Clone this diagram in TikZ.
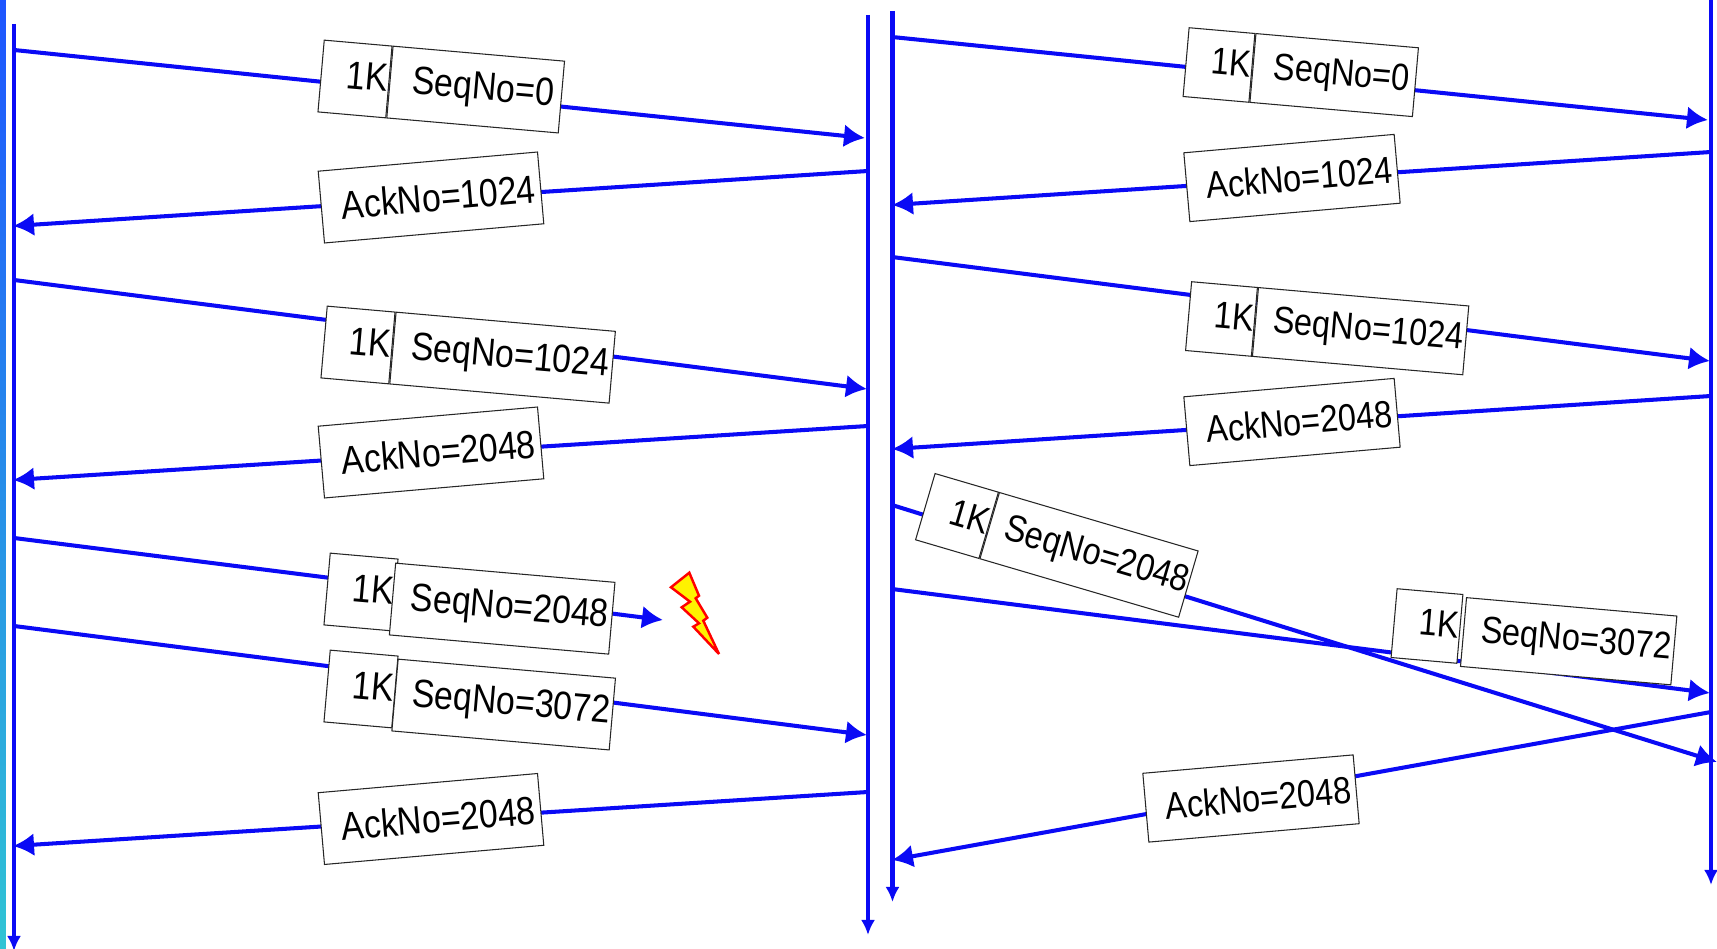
\documentclass[tikz,border=0pt]{standalone}
\usepackage{fontspec}
\setmainfont[FakeStretch=0.86]{Liberation Sans}
\usetikzlibrary{arrows.meta}

\definecolor{wireblue}{RGB}{10,10,245}
\definecolor{striptop}{RGB}{30,85,255}
\definecolor{stripbot}{RGB}{48,196,212}

\begin{document}
\begin{tikzpicture}[
    x=0.01cm, y=-0.01cm,
    life/.style={
        wireblue,
        line width=1.15pt,
        -{Latex[length=0.15cm,width=0.14cm]}
    },
    msg/.style={
        wireblue,
        line width=1.15pt,
        -{Latex[length=0.21cm,width=0.23cm]}
    },
    pkt/.style={
        draw=black!85,
        fill=white,
        line width=0.3pt,
        inner sep=0pt,
        minimum height=0.72cm,
        font=\fontsize{11.2}{13}\selectfont
    },
    lenbox/.style={
        pkt,
        minimum width=0.68cm,
        text width=0.65cm,
        text depth=0.07cm,
        align=right
    },
    textbox/.style={pkt, execute at begin node=\hspace{0.15cm}},
    seqbox/.style={textbox, anchor=west},
    ackbox/.style={textbox, minimum width=2.2cm},
    % right hand exchange is drawn a little smaller
    small/.style={
        minimum height=0.69cm,
        font=\fontsize{10.75}{13}\selectfont
    }
]

    \useasboundingbox (0,0) rectangle (1717,949);

    % Strip along the left edge
    \shade[top color=striptop, bottom color=stripbot] (0,0) rectangle (6,949);

    % Ends of the time lines
    \coordinate (host1top) at (14,24);    \coordinate (host1end) at (14,951);
    \coordinate (host2top) at (868,15);   \coordinate (host2end) at (868,935);
    \coordinate (host3top) at (892.5,11); \coordinate (host3end) at (892.5,902);
    \coordinate (host4top) at (1711,0);   \coordinate (host4end) at (1711,885);

    % Ends of the messages, left exchange
    \coordinate (seq0a) at (14,50);     \coordinate (seq0b) at (865,138);
    \coordinate (ack1a) at (868,171);   \coordinate (ack1b) at (13,226);
    \coordinate (seq1a) at (14,280);    \coordinate (seq1b) at (867,389);
    \coordinate (ack2a) at (868,426);   \coordinate (ack2b) at (13,480);
    \coordinate (seq2a) at (14,538);    \coordinate (seq2b) at (663,620);
    \coordinate (seq3a) at (14,626);    \coordinate (seq3b) at (867,735);
    \coordinate (ack3a) at (868,792);   \coordinate (ack3b) at (13,846);

    % Ends of the messages, right exchange
    \coordinate (rseq0a) at (892,37);   \coordinate (rseq0b) at (1708,120);
    \coordinate (rack1a) at (1711,152); \coordinate (rack1b) at (892,205);
    \coordinate (rseq1a) at (892,257);  \coordinate (rseq1b) at (1710,361);
    \coordinate (rack2a) at (1711,396); \coordinate (rack2b) at (892,449);
    \coordinate (rseq2a) at (892,505);  \coordinate (rseq2b) at (1717,762);
    \coordinate (rseq3a) at (892,589);  \coordinate (rseq3b) at (1710,693);
    \coordinate (rack3a) at (1711,712); \coordinate (rack3b) at (892,860);

    % Time lines
    \draw[life] (host1top) -- (host1end);
    \draw[life] (host2top) -- (host2end);
    \draw[life] (host3top) -- (host3end);
    \draw[life] (host4top) -- (host4end);

    % Messages
    \draw[msg] (seq0a) -- (seq0b);
    \draw[msg] (ack1a) -- (ack1b);
    \draw[msg] (seq1a) -- (seq1b);
    \draw[msg] (ack2a) -- (ack2b);
    \draw[msg] (seq2a) -- (seq2b);
    \draw[msg] (seq3a) -- (seq3b);
    \draw[msg] (ack3a) -- (ack3b);
    \draw[msg] (rseq0a) -- (rseq0b);
    \draw[msg] (rack1a) -- (rack1b);
    \draw[msg] (rseq1a) -- (rseq1b);
    \draw[msg] (rack2a) -- (rack2b);
    \draw[msg] (rseq2a) -- (rseq2b);
    \draw[msg] (rseq3a) -- (rseq3b);
    \draw[msg] (rack3a) -- (rack3b);

    % Packets on the left, each sits on top of its message
    \node[lenbox, rotate=-5] (len0) at (355,79) {1K};
    \node[seqbox, rotate=-5, minimum width=1.72cm] (seq0) at (len0.east) {SeqNo=0};
    \node[ackbox, rotate=5] (ack1) at (431,197.5) {AckNo=1024};

    \node[lenbox, rotate=-5] (len1) at (358,345) {1K};
    \node[seqbox, rotate=-5, minimum width=2.2cm] (seq1) at (len1.east) {SeqNo=1024};
    \node[ackbox, rotate=5] (ack2) at (431,452.5) {AckNo=2048};

    \node[lenbox, rotate=-5] (len2) at (361,592) {1K};
    \node[seqbox, rotate=-5, minimum width=2.2cm] (seq2) at (392,599) {SeqNo=2048};

    \node[lenbox, rotate=-5] (len3) at (361,689) {1K};
    \node[seqbox, rotate=-5, minimum width=2.18cm] (seq3) at (394.5,695) {SeqNo=3072};
    \node[ackbox, rotate=5] (ack3) at (431,819) {AckNo=2048};

    % Packets on the right
    \node[lenbox, small, rotate=-5, minimum width=0.66cm] (rlen0) at (1219,65) {1K};
    \node[seqbox, small, rotate=-5, minimum width=1.63cm] (rseq0) at (rlen0.east) {SeqNo=0};
    \node[ackbox, small, rotate=5, minimum width=2.11cm] (rack1) at (1292,178) {AckNo=1024};

    \node[lenbox, small, rotate=-5, minimum width=0.66cm] (rlen1) at (1221.5,319) {1K};
    \node[seqbox, small, rotate=-5, minimum width=2.11cm] (rseq1) at (rlen1.east) {SeqNo=1024};
    \node[ackbox, small, rotate=5, minimum width=2.11cm] (rack2) at (1292,422) {AckNo=2048};

    \node[lenbox, small, rotate=-16.4, minimum width=0.66cm] (rlen2) at (957,516) {1K};
    \node[seqbox, small, rotate=-16.4, minimum width=2.07cm] (rseq2) at (rlen2.east) {SeqNo=2048};

    \node[lenbox, small, rotate=-5, minimum width=0.66cm] (rlen3) at (1427,626) {1K};
    \node[seqbox, small, rotate=-5, minimum width=2.11cm] (rseq3) at (1463,632) {SeqNo=3072};
    \node[ackbox, small, rotate=5, minimum width=2.11cm] (rack3) at (1251,798.5) {AckNo=2048};

    % Lost packet
    \draw[red, fill=yellow, line width=0.7pt, miter limit=4]
        (689.3,572.7) -- (699,595.7) -- (695.7,598.3) -- (707.3,617.7) -- (703.3,620.7)
        -- (719,654) -- (693.3,626.7) -- (699,623.3) -- (681.7,607.3) -- (690,601.7)
        -- (671,587.3) -- cycle;

\end{tikzpicture}
\end{document}
